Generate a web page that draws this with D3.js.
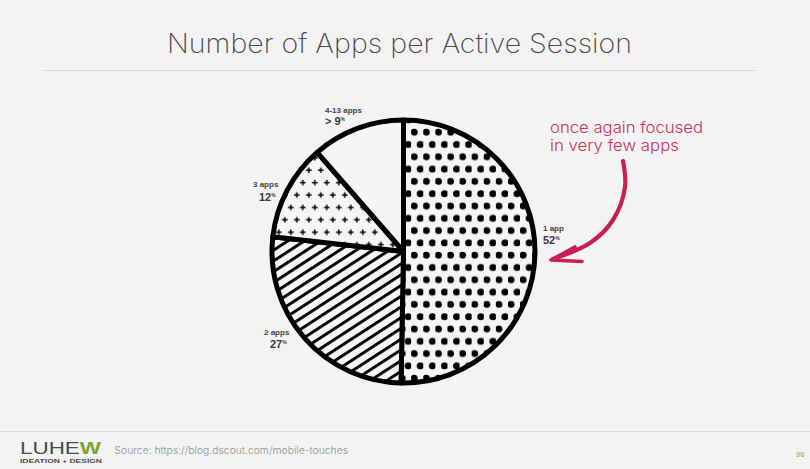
<!DOCTYPE html>
<html><head><meta charset="utf-8">
<script src="https://cdn.jsdelivr.net/npm/d3@7"></script>
<style>html,body{margin:0;padding:0;background:#f3f3f3;overflow:hidden}svg{display:block}</style>
</head><body><svg id="c" width="810" height="469"></svg>
<script>
const categories = ["1 app","2 apps","3 apps","4-13 apps"];
const labelValues = [52,27,12,9];
const labelPrefixes = ["","","","> "];
const drawnShares = [50.3,26.5,11.8,11.4];
const patterns = ["dots","stripes","plus","none"];
const titleText = "Number of Apps per Active Session";
const calloutLines = ["once again focused","in very few apps"];
const sourceText = "Source: https://blog.dscout.com/mobile-touches";
const pageNumber = "90";

const svg = d3.select("#c");
const W = 810, H = 469, cx = 403.5, cy = 251.5, R = 131.5;
svg.append("rect").attr("width",W).attr("height",H).attr("fill","#f3f3f3");
const defs = svg.append("defs");

const pd = defs.append("pattern").attr("id","dots").attr("patternUnits","userSpaceOnUse")
  .attr("x",410-3.05).attr("y",126.7-6.15).attr("width",12.1).attr("height",24.6);
pd.append("rect").attr("width",12.1).attr("height",24.6).attr("fill","#f5f5f7");
[[3.05,6.15],[9.1,18.45]].forEach(p=>pd.append("circle").attr("cx",p[0]).attr("cy",p[1]).attr("r",3.5).attr("fill","#000"));

const pp = defs.append("pattern").attr("id","plus").attr("patternUnits","userSpaceOnUse")
  .attr("x",313.3-3).attr("y",166.7-6.2).attr("width",12).attr("height",24.8);
pp.append("rect").attr("width",12).attr("height",24.8).attr("fill","#f5f5f7");
[[3,6.2],[9,18.6]].forEach(p=>{
  pp.append("path").attr("d",`M${p[0]-2.8},${p[1]}H${p[0]+2.8}M${p[0]},${p[1]-2.8}V${p[1]+2.8}`)
    .attr("stroke","#000").attr("stroke-width",1.5).attr("fill","none");
});

const ps = defs.append("pattern").attr("id","stripes").attr("patternUnits","userSpaceOnUse")
  .attr("width",20).attr("height",9).attr("patternTransform",`translate(${cx},${cy}) rotate(-33)`);
ps.append("rect").attr("width",20).attr("height",9).attr("fill","#f5f5f7");
ps.append("rect").attr("y",0).attr("width",20).attr("height",2.9).attr("fill","#000");

const pie = d3.pie().sort(null).value(d=>d.share);
const arc = d3.arc().innerRadius(0).outerRadius(R);
const rows = categories.map((c,i)=>({c,share:drawnShares[i],pat:patterns[i]}));
svg.append("g").attr("transform",`translate(${cx},${cy})`)
  .selectAll("path").data(pie(rows)).join("path")
  .attr("d",arc)
  .attr("fill",d=>d.data.pat==="none"?"#f5f5f7":`url(#${d.data.pat})`)
  .attr("stroke","#000").attr("stroke-width",5).attr("stroke-linejoin","round");

const sans = "'Liberation Sans',Arial,sans-serif";
const light = "Inter,'Open Sans',sans-serif";
svg.append("text").attr("x",167).attr("y",53)
  .attr("font-family",light).attr("font-weight",200).attr("font-size",27)
  .attr("textLength",465).attr("lengthAdjust","spacingAndGlyphs")
  .attr("fill","#4a4a4a").text(titleText);
svg.append("rect").attr("x",43).attr("y",70).attr("width",712).attr("height",1).attr("fill","#d6d6d6");
svg.append("rect").attr("x",0).attr("y",431).attr("width",810).attr("height",1).attr("fill","#dcdcdc");

const labelPos = [[543,231,543,244],[264,335,270,348],[253,187,259,201],[325,113,325,125]];
categories.forEach((c,i)=>{
  const p = labelPos[i];
  svg.append("text").attr("x",p[0]).attr("y",p[1]).attr("font-family",sans).attr("font-weight",700)
    .attr("font-size",8).attr("fill","#444").text(c);
  const t = svg.append("text").attr("x",p[2]).attr("y",p[3]).attr("font-family",sans).attr("font-weight",700)
    .attr("font-size",11).attr("fill","#3a3a3a");
  t.append("tspan").text(labelPrefixes[i]+labelValues[i]);
  t.append("tspan").attr("font-size",5).attr("dy",-4).text("%");
});

const calloutWidths = [153,129];
svg.append("g").selectAll("text").data(calloutLines).join("text")
  .attr("font-family",light).attr("font-weight",300).attr("font-size",16).attr("fill","#c9305c")
  .attr("x",550).attr("y",(d,i)=>133+i*18.3)
  .attr("textLength",(d,i)=>calloutWidths[i]).attr("lengthAdjust","spacingAndGlyphs").text(d=>d);

const arrowCurve = d3.line().curve(d3.curveCatmullRom.alpha(0.5));
const crimson = "#c8204f";
const shaft = [[623,161],[625,187],[613,220],[590,243],[553,259]];
svg.append("path").attr("d",arrowCurve(shaft)).attr("fill","none").attr("stroke",crimson)
  .attr("stroke-width",4.2).attr("stroke-linecap","round");
svg.append("path").attr("d","M575,247L551,260L582,261.5").attr("fill","none").attr("stroke",crimson)
  .attr("stroke-width",3.6).attr("stroke-linecap","round").attr("stroke-linejoin","round");

const logo = svg.append("text").attr("x",20).attr("y",454).attr("font-family",sans).attr("font-size",17)
  .attr("textLength",81).attr("lengthAdjust","spacingAndGlyphs");
logo.append("tspan").attr("fill","#4a4a4a").text("LUHE");
logo.append("tspan").attr("fill","#7fa52f").attr("font-weight",700).text("W");
svg.append("text").attr("x",20).attr("y",462.5).attr("font-family",sans).attr("font-weight",700).attr("font-size",5.5)
  .attr("textLength",82).attr("lengthAdjust","spacingAndGlyphs").attr("fill","#4a4a4a").text("IDEATION + DESIGN");
svg.append("text").attr("x",114.5).attr("y",454).attr("font-family",light).attr("font-weight",300).attr("font-size",10.5)
  .attr("textLength",233.5).attr("lengthAdjust","spacingAndGlyphs").attr("fill","#8f8f8f").text(sourceText);
svg.append("text").attr("x",796).attr("y",457).attr("font-family",sans).attr("font-weight",700).attr("font-size",7.5)
  .attr("fill","#a9b98a").text(pageNumber);
</script></body></html>
